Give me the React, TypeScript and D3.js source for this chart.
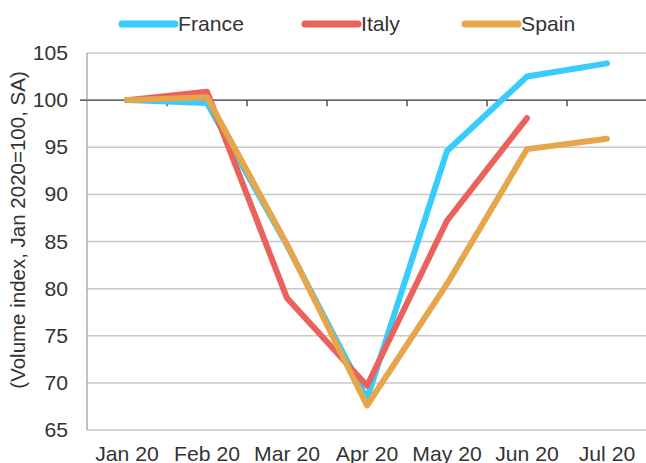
import React from "react";
import * as d3 from "d3";

const categories = ["Jan 20", "Feb 20", "Mar 20", "Apr 20", "May 20", "Jun 20", "Jul 20"];
const france = [100, 99.7, 84.6, 68.3, 94.6, 102.5, 103.9];
const italy = [100, 100.9, 79.0, 69.7, 87.2, 98.1];
const spain = [100, 100.3, 84.7, 67.6, 80.5, 94.8, 95.9];
const yTicks = [65, 70, 75, 80, 85, 90, 95, 100, 105];

const seriesNames = ["France", "Italy", "Spain"];
const seriesColors = ["#36CCFD", "#E9625B", "#E6A64C"];

const SX = 1.06;

function T(props: { x: number; y: number; anchor?: string; size?: number; dy?: string; children: React.ReactNode }) {
  const { x, y, anchor = "start", size = 20, dy = "0", children } = props;
  return (
    <g transform={`translate(${x},${y}) scale(${SX},1)`}>
      <text x={0} y={0} dy={dy} textAnchor={anchor as any} fontSize={size} fill="#333">
        {children}
      </text>
    </g>
  );
}

export default function App() {
  const W = 646, H = 463;
  const left = 87, right = 646, top = 53, bottom = 430;
  const x = d3.scaleBand<string>().domain(categories).range([left, right + 1]);
  const y = d3.scaleLinear().domain([65, 105]).range([bottom, top]);
  const cx = (c: string) => (x(c) as number) + x.bandwidth() / 2;
  const line = d3
    .line<number>()
    .x((_, i) => cx(categories[i]))
    .y((d) => y(d));
  const data = [france, italy, spain];
  const font = "Liberation Sans, Arial, sans-serif";
  const legendX = [122, 305, 465];
  return (
    <svg
      width={W}
      height={H}
      style={{ position: "absolute", left: 0, top: 0, background: "#fff" }}
      fontFamily={font}
    >
      {yTicks.map((t) => (
        <line
          key={t}
          x1={left}
          x2={W}
          y1={y(t)}
          y2={y(t)}
          stroke={t === 100 ? "#333" : "#c8c8c8"}
          strokeWidth={t === 100 ? 1.3 : 1.5}
        />
      ))}
      <line x1={left} x2={left} y1={top} y2={bottom} stroke="#999" strokeWidth={1.2} />
      <line x1={left - 7} x2={left} y1={y(100)} y2={y(100)} stroke="#333" strokeWidth={1.3} />
      {categories.slice(1).map((c) => (
        <line
          key={c}
          x1={x(c) as number}
          x2={x(c) as number}
          y1={y(100)}
          y2={y(100) + 6}
          stroke="#333"
          strokeWidth={1.3}
        />
      ))}
      {yTicks.map((t) => (
        <T key={t} x={68} y={y(t)} dy="0.35em" anchor="end">
          {t}
        </T>
      ))}
      {categories.map((c) => (
        <T key={c} x={cx(c)} y={460.5} anchor="middle">
          {c}
        </T>
      ))}
      <g transform={`translate(24.5, 230) rotate(-90)`}>
        <text x={0} y={0} textAnchor="middle" fontSize={20.5} fill="#333">
          (Volume index, Jan 2020=100, SA)
        </text>
      </g>
      {data.map((d, i) => (
        <path
          key={i}
          d={line(d) || ""}
          fill="none"
          stroke={seriesColors[i]}
          strokeWidth={6}
          strokeLinecap="round"
          strokeLinejoin="round"
        />
      ))}
      {seriesNames.map((n, i) => (
        <g key={n}>
          <line
            x1={legendX[i]}
            x2={legendX[i] + 53}
            y1={24}
            y2={24}
            stroke={seriesColors[i]}
            strokeWidth={7}
            strokeLinecap="round"
          />
          <T x={legendX[i] + 56} y={24} dy="0.35em">
            {n}
          </T>
        </g>
      ))}
    </svg>
  );
}
